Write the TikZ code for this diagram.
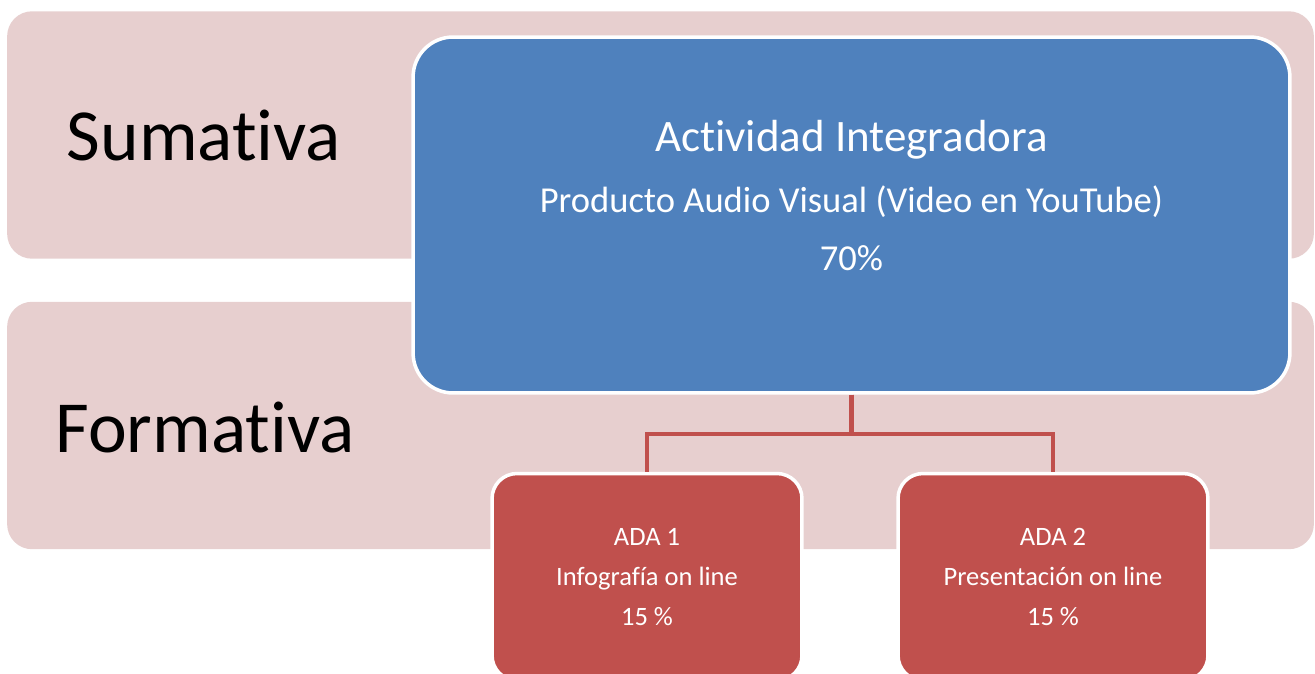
\documentclass[tikz,border=0pt]{standalone}
\usepackage{fontspec}
\setmainfont{Carlito}[Ligatures=NoCommon]
\usepackage{tikz}
\usetikzlibrary{positioning, calc}
\definecolor{bandpink}{HTML}{E7CFCF}
\definecolor{integblue}{HTML}{4F81BD}
\definecolor{adared}{HTML}{C0504D}

\begin{document}
\begin{tikzpicture}[x=0.02cm, y=-0.02cm,
    band/.style={rectangle, rounded corners=0.5cm, fill=bandpink, minimum width=26.14cm, minimum height=4.95cm, inner sep=0pt},
    bandlabel/.style={font=\fontsize{41.8}{50}\selectfont, text=black, inner sep=0pt},
    bluebox/.style={rectangle, rounded corners=0.8cm, fill=integblue, draw=white, line width=2pt, minimum width=17.54cm, minimum height=7.12cm},
    adabox/.style={rectangle, rounded corners=0.5cm, fill=adared, draw=white, line width=2pt, minimum width=6.2cm, minimum height=4.14cm,
      text=white, align=center, font=\fontsize{15.1}{22.8}\selectfont},
    link/.style={adared, line width=2.4pt}]

    \clip (0,0) rectangle (1315,673);

    \node (sum) [band] at (660.5,135) {};
    \node (form) [band] at (660.5,425.5) {};
    \node (sumlabel) [bandlabel] at (204,136) {Sumativa};
    \node (formlabel) [bandlabel] at (205,427) {Formativa};

    \node (integ) [bluebox] at (851.5,215) {};
    \node (integtext) [text=white, align=center, inner sep=0pt, font=\fontsize{20.8}{33}\selectfont] at (851.5,195.5)
      {{\fontsize{25.6}{33}\selectfont Actividad Integradora}\\[1.7pt]Producto Audio Visual (Video en YouTube)\\70\%};

    \node (ada1) [adabox] at (647,577) {ADA 1\\Infografía on line\\15 \%};
    \node (ada2) [adabox] at (1053,577) {ADA 2\\Presentación on line\\15 \%};

    \foreach \k in {ada1, ada2} {
      \draw [link] (integ.south) -- ++(0,39) -| (\k.north);
    }
\end{tikzpicture}
\end{document}
